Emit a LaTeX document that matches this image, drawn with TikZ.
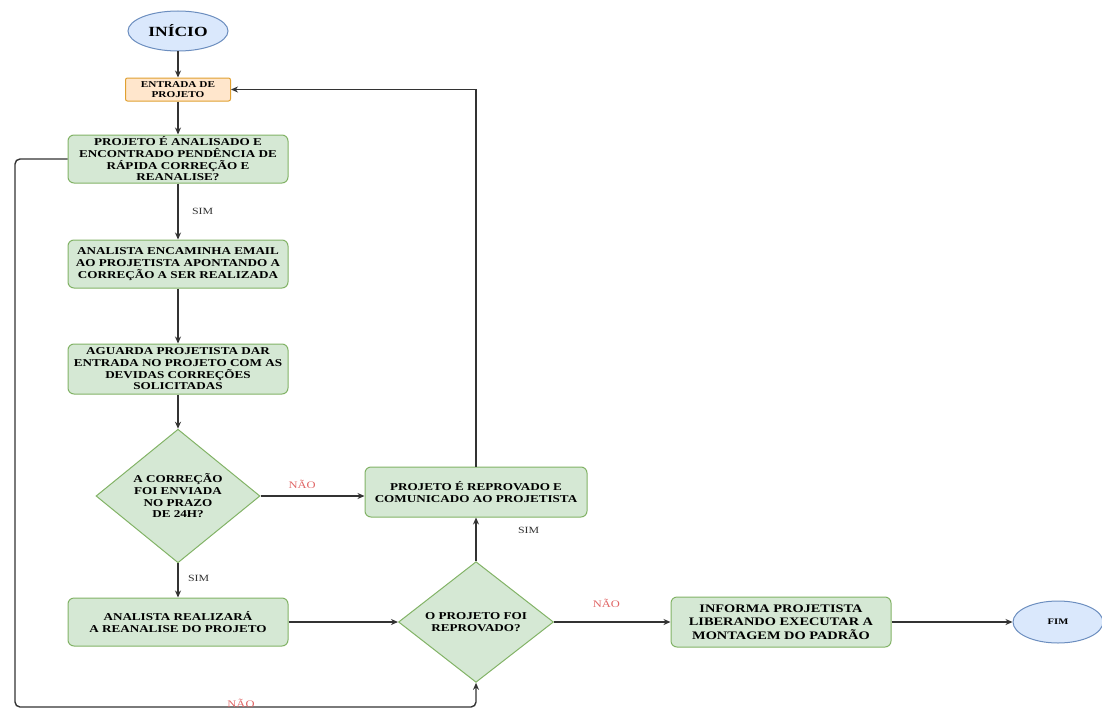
\documentclass[tikz,border=0pt]{standalone}
\usepackage{fontspec}
\setmainfont{Liberation Serif}[FakeStretch=1.25]
\usetikzlibrary{shapes.geometric,arrows.meta}
\definecolor{gfill}{HTML}{D5E8D4}
\definecolor{gline}{HTML}{82B366}
\definecolor{bfill}{HTML}{DAE8FC}
\definecolor{bline}{HTML}{6C8EBF}
\definecolor{ofill}{HTML}{FFE6CC}
\definecolor{oline}{HTML}{E0A030}
\definecolor{nred}{HTML}{E06666}
\definecolor{lgray}{HTML}{333333}
\begin{document}
\begin{tikzpicture}[x=1pt,y=-1pt,
  boxtxt/.style={font=\bfseries\fontsize{10.5}{11.7}\selectfont, align=center, text=black},
  gbox/.style={boxtxt, draw=gline, fill=gfill, line width=1pt, rounded corners=6pt, inner sep=0pt, minimum width=220pt},
  gdia/.style={boxtxt, diamond, draw=gline, fill=gfill, line width=1pt, inner sep=0pt},
  term/.style={ellipse, draw=bline, fill=bfill, line width=1pt, inner sep=0pt, text=black},
  conn/.style={draw=lgray, line width=1.4pt, -{Stealth[length=7pt,width=6pt]}},
  simlbl/.style={font=\fontsize{9.5}{11}\selectfont, text=lgray},
  naolbl/.style={font=\fontsize{10}{11}\selectfont, text=nred}]
\useasboundingbox (0,0) rectangle (1102,709);
\node[term, minimum width=100pt, minimum height=40pt, font=\bfseries\fontsize{14}{16}\selectfont] (ini) at (178,31) {INÍCIO};
\node[boxtxt, draw=oline, fill=ofill, line width=1pt, rounded corners=2pt, minimum width=105pt, minimum height=23pt, inner sep=0pt, font=\bfseries\fontsize{9}{9.5}\selectfont] (ent) at (178,89.5) {ENTRADA DE\\PROJETO};
\node[gbox, minimum height=48pt] (b1) at (178,159) {PROJETO É ANALISADO E\\ENCONTRADO PENDÊNCIA DE\\RÁPIDA CORREÇÃO E\\REANALISE?};
\node[gbox, minimum height=48pt] (b2) at (178,264) {ANALISTA ENCAMINHA EMAIL\\AO PROJETISTA APONTANDO A\\CORREÇÃO A SER REALIZADA};
\node[gbox, minimum height=50pt] (b3) at (178,369) {AGUARDA PROJETISTA DAR\\ENTRADA NO PROJETO COM AS\\DEVIDAS CORREÇÕES\\SOLICITADAS};
\node[gdia, minimum width=164pt, minimum height=98pt] (d1) at (178,496) {A CORREÇÃO\\FOI ENVIADA\\NO PRAZO\\DE 24H?};
\node[gbox, minimum width=222pt, minimum height=50pt] (b4) at (476,492) {PROJETO É REPROVADO E\\COMUNICADO AO PROJETISTA};
\node[gbox, minimum height=48pt] (b5) at (178,622) {ANALISTA REALIZARÁ\\A REANALISE DO PROJETO};
\node[gdia, minimum width=155pt, minimum height=89pt] (d2) at (476,622) {O PROJETO FOI\\REPROVADO?};
\node[gbox, minimum width=220pt, minimum height=50pt, font=\bfseries\fontsize{11.5}{13.3}\selectfont] (b6) at (781,622) {INFORMA PROJETISTA\\LIBERANDO EXECUTAR A\\MONTAGEM DO PADRÃO};
\node[term, minimum width=90pt, minimum height=42pt, font=\bfseries\fontsize{8.5}{10}\selectfont] (fim) at (1058,622) {FIM};
\coordinate (loopA) at (15,159);
\coordinate (loopB) at (15,707);
\coordinate (loopC) at (476,707);
\coordinate (topR) at (476,89.5);
\draw[conn] (ini) -- (ent);
\draw[conn] (ent) -- (b1);
\draw[conn] (b1) -- node[simlbl, right=10pt, pos=0.5] {SIM} (b2);
\draw[conn] (b2) -- (b3);
\draw[conn] (b3) -- (d1);
\draw[conn] (d1.east) -- node[naolbl, above=3pt, pos=0.4] {NÃO} (d1.east -| b4.west);
\draw[conn] (d1) -- node[simlbl, right=6pt, pos=0.45] {SIM} (b5);
\draw[conn] (b5) -- (d2);
\draw[conn] (d2) -- node[simlbl, right=38pt, pos=0.7] {SIM} (b4);
\draw[conn] (d2) -- node[naolbl, above=10pt, pos=0.45] {NÃO} (b6);
\draw[conn] (b6) -- (fim);
\draw[conn] (b4.north) -- (topR) -- (ent.east);
\draw[conn, rounded corners=5pt] (b1.west) -- (loopA) -- (loopB) -- (loopC) -- (d2.south);
\node[naolbl] (nao3) at (241,703) {NÃO};
\end{tikzpicture}
\end{document}
